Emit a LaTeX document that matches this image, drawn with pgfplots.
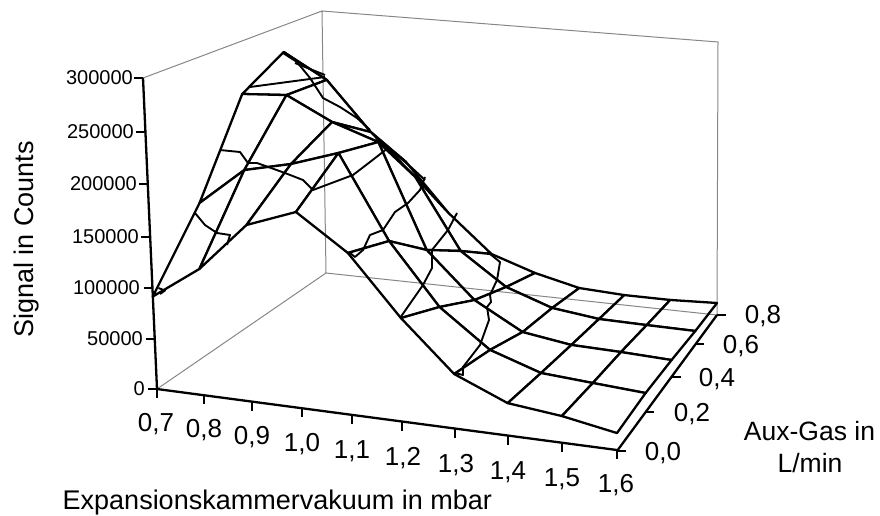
\documentclass[border=0pt]{standalone}
\usepackage{fontspec}
\setmainfont{Liberation Sans}
\usepackage{pgfplots}
\usepackage{pgfplotstable}
\pgfplotsset{compat=1.18}
% signal in counts on the grid of Expansionskammervakuum (x) and Aux-Gas (y), back row first
\pgfplotstableread{
x y z
0.7 0.8 225500
0.8 0.8 170800
0.9 0.8 138800
1.0 0.8 85100
1.1 0.8 42800
1.2 0.8 26100
1.3 0.8 14100
1.4 0.8 11500
1.5 0.8 11500
1.6 0.8 13700

0.7 0.6 271900
0.8 0.6 246200
0.9 0.6 194500
1.0 0.6 150500
1.1 0.6 74500
1.2 0.6 40000
1.3 0.6 22400
1.4 0.6 16000
1.5 0.6 15200
1.6 0.6 14700

0.7 0.4 246300
0.8 0.4 249700
0.9 0.4 226600
1.0 0.4 210800
1.1 0.4 103700
1.2 0.4 56400
1.3 0.4 28300
1.4 0.4 20700
1.5 0.4 19400
1.6 0.4 17300

0.7 0.2 157300
0.8 0.2 195500
0.9 0.2 206600
1.0 0.2 222600
1.1 0.2 140800
1.2 0.2 80300
1.3 0.2 42900
1.4 0.2 25800
1.5 0.2 22200
1.6 0.2 18700

0.7 0.0 91700
0.8 0.0 124300
0.9 0.0 172300
1.0 0.0 190300
1.1 0.0 157200
1.2 0.0 101000
1.3 0.0 53300
1.4 0.0 31700
1.5 0.0 26000
1.6 0.0 16500
}\signaltable
\definecolor{wallgrey}{RGB}{135,135,135}
\pgfplotsset{
  contourline/.style={black,line width=1.9pt,line join=round,forget plot},
  frameline/.style={black,line width=2.3pt,forget plot},
  wallline/.style={wallgrey,line width=1pt,forget plot,/tikz/blend mode=multiply},
}
\begin{document}
\begin{tikzpicture}
\begin{axis}[
  scale only axis,width=880pt,height=514pt,
  xmin=0,xmax=880,ymin=0,ymax=514,zmin=-1,zmax=1,
  y dir=reverse,view={0}{90},hide axis,clip=false,
  declare function={
    sS(\sa)=((\sa-0.7)/0.9)*0.92/(1-0.08*(\sa-0.7)/0.9);
    tT(\sa)=(\sa/0.8)*1.2/(1+0.2*\sa/0.8);
    fF(\sa)=0.962*(\sa/300000)/(1-0.038*\sa/300000);
    pU(\sa,\sb,\sc)=157+460*\sa+169*\sb-69*\sa*\sb+\sc*(-14+14*\sa+10*\sb-9*\sa*\sb);
    pV(\sa,\sb,\sc)=389+61*\sa-116*\sb-19*\sa*\sb+\sc*(-311-9*\sa+49*\sb-2*\sa*\sb);
  },
  colormap={whitemap}{color=(white) color=(white)},
  point meta min=0,point meta max=1,
]
% surface, painted back to front
\addplot3[surf,shader=faceted,faceted color=black,z buffer=none,mesh/rows=5,mesh/cols=10,
  point meta=0,line width=2.3pt,line join=round,forget plot]
  table[x expr={pU(sS(\thisrow{x}),tT(\thisrow{y}),fF(\thisrow{z}))},
        y expr={pV(sS(\thisrow{x}),tT(\thisrow{y}),fF(\thisrow{z}))},
        z expr=0] {\signaltable};
% level lines on the surface
\addplot[contourline] coordinates {(158.5,288)(165,290.5)(160,294)};
\addplot[contourline] coordinates {(195,213)(205,225)(217,233)(230,235)(227,245)};
\addplot[contourline] coordinates {(220,150)(240,152)(248,163)(257,163)(285,173)(303,180)(313,190)(353,175)(370,162)(388,148)};
\addplot[contourline] coordinates {(350,253)(355,257)(363,250)(370,235)(383,230)(395,212)(408,203)(420,190)(425,177)};
\addplot[contourline] coordinates {(400,318)(423,285)(432,268)(432,250)(448,230)(457,213)};
\addplot[contourline] coordinates {(490,254)(500,262)(497,280)(490,295)(491,302)(487,307)(489,320)(480,345)(463,367)(463,375)(455,373)};
\addplot[contourline] coordinates {(250,87)(325,77)};
\addplot[contourline] coordinates {(283,53)(297,62)(310,78)(323,98)(340,107)(357,118)(370,130)};
\addplot[contourline] coordinates {(295,63)(325,75)};
\addplot[contourline] coordinates {(393,152)(412,168)(425,180)};
% back walls
\addplot[wallline] coordinates {(143,78)(322,11)(718,42)(717,315)(326,273)(157,389)};
\addplot[wallline] coordinates {(322,11)(326,273)};
% front axes
\addplot[frameline] coordinates {(143,78)(157,389)};
\addplot[frameline] coordinates {(157,389)(617,450)};
\addplot[frameline] coordinates {(617,451)(717,315)};
\foreach \u/\v in {157/389,154.75/339,152.5/288,150.2/237,147.8/184,145.4/132,143/78}{
  \edef\temp{\noexpand\addplot[frameline] coordinates {(\u-9,\v)(\u,\v)};}\temp
}
\foreach \u/\v in {157/389,204/395.2,252/401.6,302/408.2,352/414.8,402/421.5,455/428.5,508/435.5,562/442.7,617/450}{
  \pgfmathsetmacro\vb{\v+9}
  \edef\temp{\noexpand\addplot[frameline] coordinates {(\u,\v)(\u,\vb)};}\temp
}
\addplot[frameline] coordinates {(617,451)(626,451)};
\addplot[frameline] coordinates {(645,412)(654,412)};
\addplot[frameline] coordinates {(672,377)(681,377)};
\addplot[frameline] coordinates {(695,344)(704,344)};
\addplot[frameline] coordinates {(717,315)(726,315)};
% tick labels
\foreach \t/\u/\v in {0/145/389,50000/143/339,100000/140/288,150000/139/237,200000/137/184,250000/134/132,300000/133/78}{
  \edef\temp{\noexpand\node[anchor=east,font=\noexpand\fontsize{20}{24}\noexpand\selectfont,inner sep=0pt] at (axis cs:\u,\v) {\t};}\temp
}
\foreach \t/\u/\v in {{0,7}/156/431,{0,8}/204/437,{0,9}/252/444,{1,0}/302/451,{1,1}/352/458,{1,2}/403/465,{1,3}/456/472,{1,4}/508/479,{1,5}/562/486,{1,6}/616/492}{
  \edef\temp{\noexpand\node[anchor=base,font=\noexpand\fontsize{26}{30}\noexpand\selectfont,inner sep=0pt] at (axis cs:\u,\v) {\t};}\temp
}
\foreach \t/\u/\v in {{0,0}/663/460,{0,2}/692/421,{0,4}/717/386,{0,6}/741/353,{0,8}/763/323}{
  \edef\temp{\noexpand\node[anchor=base,font=\noexpand\fontsize{26}{30}\noexpand\selectfont,inner sep=0pt] at (axis cs:\u,\v) {\t};}\temp
}
% axis titles
\node[anchor=base west,font=\fontsize{27}{32}\selectfont,inner sep=0pt] at (axis cs:62.5,509.5) {Expansionskammervakuum in mbar};
\node[anchor=base,font=\fontsize{26.5}{32}\selectfont,inner sep=0pt] at (axis cs:809.5,440) {Aux-Gas in};
\node[anchor=base,font=\fontsize{26.5}{32}\selectfont,inner sep=0pt] at (axis cs:810,472) {L/min};
\node[anchor=base,font=\fontsize{27}{32}\selectfont,inner sep=0pt,rotate=90] at (axis cs:33.5,239.5) {Signal in Counts};
\path (axis cs:0,0) (axis cs:880,514);
\end{axis}
\end{tikzpicture}
\end{document}
